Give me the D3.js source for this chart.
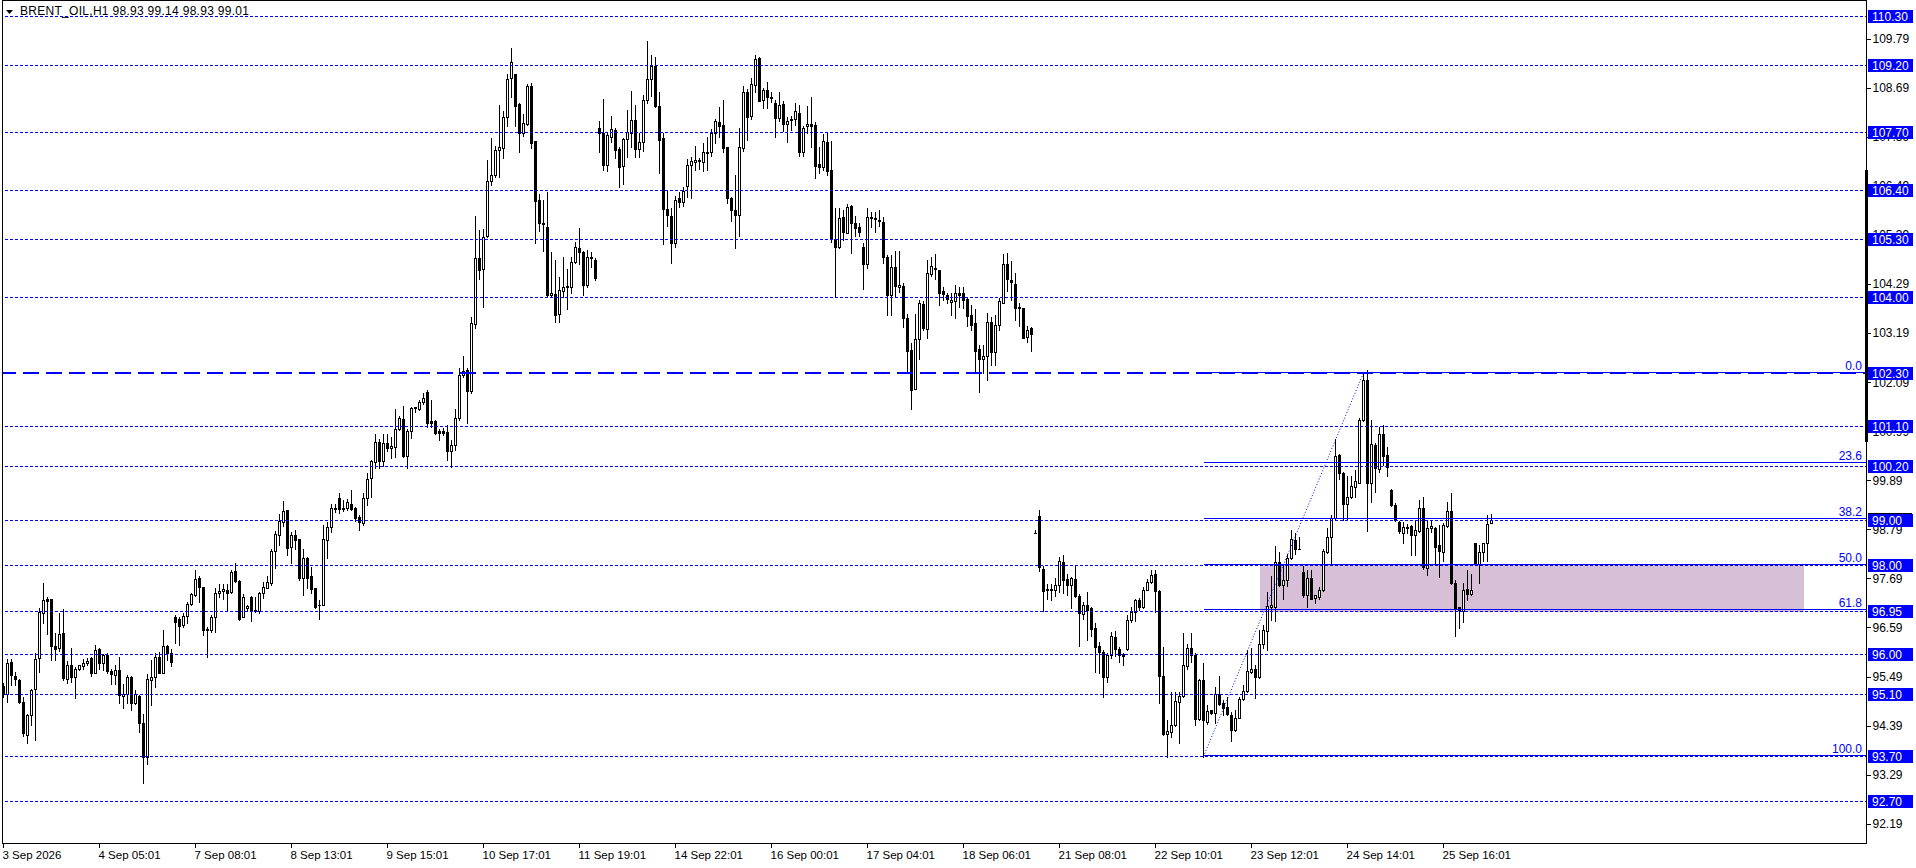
<!DOCTYPE html>
<html><head><meta charset="utf-8">
<script src="https://cdn.jsdelivr.net/npm/d3@7/dist/d3.min.js"></script>
<style>
html,body{margin:0;padding:0;background:#fff;overflow:hidden}
svg{display:block}
</style></head><body>
<svg id="c" width="1916" height="868"></svg>
<script>
// ---------------- DATA ----------------
const opens=[
95.28,95.11,95.81,95.50,95.41,94.93,94.19,94.63,95.20,95.90,
96.91,97.23,97.22,96.17,96.12,96.46,95.43,95.76,95.49,95.65,
95.73,95.79,95.90,95.58,96.10,95.79,95.97,95.61,95.52,95.64,
95.05,95.11,95.49,94.89,95.05,94.44,93.69,95.41,95.49,95.93,
95.58,96.17,96.02,96.83,96.77,96.65,96.85,97.11,97.32,97.69,
97.49,96.55,96.53,96.82,97.36,97.41,97.44,97.39,97.85,97.63,
96.83,97.02,97.28,96.99,96.97,97.36,97.48,97.58,98.31,98.66,
98.96,99.22,98.40,98.66,98.57,97.69,98.14,97.74,97.47,97.10,
97.09,98.55,98.84,99.25,99.49,99.24,99.28,99.37,99.28,99.06,
98.93,99.50,99.95,100.31,100.76,100.32,100.72,100.61,100.64,101.05,
101.26,100.44,101.00,101.52,101.48,101.64,101.86,101.22,101.22,100.99,
100.99,100.97,100.55,100.68,101.28,102.26,102.36,101.90,103.39,104.87,
104.62,105.37,106.59,106.73,107.30,107.33,108.03,108.92,108.99,108.32,
107.67,107.88,108.73,107.50,106.17,105.67,105.56,104.04,104.06,103.61,
104.14,104.25,104.22,104.79,105.09,105.01,104.28,104.89,104.84,107.78,
107.67,106.96,107.59,107.74,107.32,106.94,107.54,107.68,107.97,107.32,
107.47,108.42,108.88,109.18,108.28,107.56,105.97,105.81,105.20,106.23,
106.14,106.49,106.96,107.03,107.05,107.03,107.26,107.24,107.67,107.92,
107.86,107.36,106.23,105.95,105.84,107.33,108.60,108.06,108.75,109.35,
108.41,108.64,108.48,108.36,108.02,108.32,107.87,107.96,107.99,108.12,
107.24,107.83,107.87,107.86,106.98,106.92,107.47,106.85,105.29,105.11,
105.79,105.44,106.04,105.65,105.56,105.11,104.75,105.79,105.78,105.73,
105.69,104.90,104.04,104.68,104.23,104.25,103.52,102.81,101.93,103.06,
103.84,103.29,104.51,104.66,104.60,104.13,104.04,103.88,103.92,104.08,
104.08,103.95,103.60,103.41,102.83,102.62,102.68,103.43,102.76,103.37,
103.87,104.74,104.38,104.30,103.78,103.75,103.11,103.30,98.70,99.09,
97.91,97.46,97.43,97.43,97.54,98.06,97.67,97.54,97.67,97.30,
96.89,97.09,97.02,96.57,96.17,96.05,95.49,95.97,96.37,96.10,
95.99,96.10,96.76,96.93,97.20,97.04,97.44,97.60,97.78,97.41,
95.50,94.20,94.24,94.40,94.93,95.05,95.73,96.12,95.97,94.53,
95.41,94.48,94.74,94.68,95.11,94.89,94.81,94.63,94.29,94.57,
94.98,95.17,95.60,95.67,95.49,96.23,96.51,97.05,97.05,98.06,
97.54,97.65,98.14,98.55,98.36,97.84,97.32,97.69,97.26,97.28,
97.43,98.29,98.61,99.04,100.46,100.06,99.36,99.51,99.75,99.84,
101.24,102.15,99.82,100.68,100.14,100.93,100.46,99.67,99.33,98.96,
98.71,98.85,98.87,98.66,98.76,99.28,97.92,98.83,98.81,98.44,
98.29,98.87,99.21,97.58,97.04,96.97,97.45,97.34,98.48,98.01,
98.29,98.48,98.93];
const highs=[
95.34,95.88,95.88,95.60,95.43,95.04,94.66,95.22,96.01,97.02,
97.59,97.28,97.24,96.46,96.91,97.00,95.84,96.14,95.71,95.76,
95.88,95.90,95.93,96.20,96.14,95.99,96.01,95.65,95.75,95.93,
95.32,95.52,95.51,95.19,95.07,94.66,95.55,95.86,96.01,96.05,
96.53,96.20,96.10,96.87,96.83,96.91,97.17,97.37,97.89,97.75,
97.50,96.61,96.87,97.47,97.56,97.56,97.56,97.88,98.03,97.65,
97.33,97.09,97.30,97.28,97.39,97.62,97.74,98.36,98.75,99.13,
99.43,99.22,98.74,98.77,98.57,98.36,98.18,97.95,97.47,97.21,
98.88,98.96,99.36,99.35,99.60,99.45,99.46,99.67,99.30,99.11,
99.61,100.05,100.34,100.93,100.81,100.93,100.93,100.87,101.50,101.34,
101.56,101.04,101.54,101.54,101.69,101.84,101.91,101.69,101.24,101.05,
101.07,101.13,100.79,101.50,102.40,102.68,102.40,103.56,105.82,105.50,
105.52,107.07,107.56,107.38,108.30,108.16,109.01,109.58,109.01,108.34,
108.10,108.78,108.79,107.50,106.31,106.17,106.35,105.01,104.83,104.44,
104.89,104.62,104.89,105.24,105.54,105.03,105.05,105.02,104.87,107.95,
108.43,107.67,108.06,107.80,107.37,107.56,108.19,108.62,108.30,107.68,
108.53,109.74,109.43,109.39,108.60,107.67,106.38,105.99,106.27,106.36,
106.47,107.09,107.13,107.38,107.11,107.46,107.59,107.76,107.98,108.27,
108.42,107.37,106.25,106.73,107.78,108.72,108.66,108.90,109.43,109.37,
108.68,108.83,108.60,108.42,108.60,108.40,108.04,108.06,108.36,108.30,
107.83,108.28,108.48,107.93,107.37,107.65,107.71,107.50,105.99,105.99,
105.95,106.08,106.06,105.82,105.65,105.20,105.99,105.91,105.91,105.94,
105.79,104.94,104.94,105.04,105.04,104.31,103.62,102.96,103.62,103.93,
103.92,104.84,104.90,104.96,104.60,104.23,104.08,104.08,104.27,104.23,
104.23,104.01,103.82,103.72,102.92,102.92,103.65,103.56,103.60,103.97,
104.96,104.98,104.81,104.53,103.86,103.75,103.35,103.32,98.78,99.22,
97.97,97.56,97.56,97.71,98.18,98.21,97.79,97.73,97.97,97.33,
97.17,97.38,97.06,96.68,96.27,96.08,96.02,96.50,96.52,96.16,
96.01,96.87,97.05,97.24,97.26,97.49,97.67,97.88,97.89,97.43,
96.16,94.51,95.15,95.15,95.15,96.47,96.23,96.46,96.01,95.43,
95.79,94.85,94.75,95.26,95.50,94.96,95.04,94.70,94.74,95.04,
95.31,96.08,96.14,95.75,96.53,96.64,97.39,97.74,98.42,98.29,
98.01,98.24,98.77,98.71,98.61,97.97,97.89,97.89,97.32,97.49,
98.36,98.81,99.11,100.81,100.48,100.08,99.99,99.99,100.12,101.28,
102.30,102.36,101.24,100.72,101.09,101.13,100.63,99.69,99.39,98.98,
98.96,98.91,98.89,99.00,99.45,99.52,99.00,98.98,98.85,98.89,
98.94,99.40,99.61,97.65,97.06,97.58,97.89,97.79,98.49,98.44,
98.48,99.11,99.14];
const lows=[
95.04,94.93,95.31,95.30,94.90,94.16,93.99,94.40,94.07,95.60,
96.70,96.44,95.86,95.87,96.07,95.41,95.35,95.37,95.02,95.64,
95.67,95.75,95.50,95.58,95.67,95.64,95.56,95.32,95.32,94.89,
94.79,94.89,94.74,94.87,94.25,93.11,93.54,94.85,95.26,95.56,
95.56,95.87,95.73,96.25,96.20,96.61,96.70,97.09,97.30,97.17,
96.42,95.93,96.50,96.50,97.28,97.24,96.98,97.37,97.62,96.76,
96.83,96.99,96.74,96.94,96.91,97.26,97.47,97.54,97.92,98.44,
98.86,98.21,98.03,98.36,97.65,97.32,97.47,97.36,97.03,96.78,
97.09,98.15,98.74,99.19,99.15,99.20,99.22,99.22,98.98,98.77,
98.89,99.34,99.52,100.16,100.17,100.20,100.55,100.38,100.42,101.02,
100.42,100.16,100.83,101.43,101.46,101.61,101.09,101.09,100.92,100.79,
100.91,100.35,100.18,100.57,101.24,102.21,101.18,101.85,103.30,104.40,
103.77,105.34,106.51,106.70,106.68,107.11,107.84,108.49,107.84,107.24,
107.62,107.86,107.33,105.22,105.49,105.04,104.01,104.01,103.45,103.45,
104.01,103.72,104.08,104.77,104.75,104.04,104.22,104.68,104.38,107.24,
106.85,106.83,107.48,107.12,106.47,106.53,107.13,107.37,107.13,107.13,
107.28,108.36,108.51,108.27,106.77,105.19,105.59,104.77,105.13,106.01,
106.03,106.25,106.23,106.85,106.88,106.83,106.85,107.15,107.45,107.59,
107.26,106.11,105.71,105.09,105.37,107.28,107.53,107.98,108.60,108.40,
108.23,108.23,108.38,107.59,107.95,107.73,107.48,107.74,107.86,107.16,
107.15,107.67,107.36,106.66,106.77,106.85,106.73,105.23,104.02,105.09,
105.28,105.43,104.98,105.37,105.37,104.19,104.64,105.58,105.46,105.59,
104.77,103.60,103.60,104.01,104.12,103.32,102.29,101.50,101.93,102.62,
103.26,103.07,104.46,104.40,103.82,103.93,103.86,103.60,103.52,103.78,
103.75,103.35,103.26,102.35,101.88,102.29,102.15,102.48,102.48,103.26,
103.86,104.14,103.93,103.48,103.35,103.07,103.00,102.80,98.70,97.86,
96.96,97.24,97.20,97.30,97.38,97.37,97.32,97.02,97.28,96.17,
96.77,96.32,96.40,95.60,95.56,95.04,95.37,95.90,95.95,95.82,
95.75,96.08,96.72,96.74,96.98,97.02,97.43,97.58,96.94,94.90,
94.18,93.68,94.14,94.39,94.01,95.04,95.67,95.82,94.40,94.52,
93.69,94.43,94.66,94.45,94.85,94.63,94.63,94.05,94.28,94.55,
94.96,95.15,95.56,95.02,95.45,96.12,96.08,96.76,96.74,97.52,
97.22,97.52,98.12,98.23,98.34,97.27,97.06,97.22,97.14,97.24,
97.41,98.25,98.04,99.00,99.91,99.01,98.99,99.49,99.52,99.82,
101.23,98.76,99.41,99.63,100.08,100.23,99.99,99.31,98.98,98.71,
98.49,98.71,98.21,98.21,98.74,97.91,97.77,98.74,98.03,97.73,
98.07,98.85,97.56,96.40,96.57,96.72,97.20,97.32,98.00,97.59,
98.09,98.09,98.93];
const closes=[
95.11,95.79,95.52,95.43,94.93,94.22,94.63,95.19,95.88,96.93,
97.21,97.18,96.17,96.11,96.44,95.45,95.76,95.49,95.67,95.74,
95.79,95.84,95.56,96.08,95.79,95.97,95.62,95.54,95.64,95.08,
95.11,95.49,94.89,95.09,94.44,93.69,95.43,95.49,95.93,95.58,
96.18,96.02,95.82,96.72,96.63,96.85,97.11,97.34,97.67,97.49,
96.53,96.53,96.82,97.36,97.41,97.45,97.37,97.84,97.64,96.79,
97.27,97.07,96.97,96.96,97.37,97.49,97.60,98.31,98.68,98.98,
99.21,98.38,98.66,98.55,97.69,98.14,97.69,97.45,97.06,97.09,
98.57,98.85,99.28,99.28,99.24,99.28,99.40,99.25,99.04,98.96,
99.49,99.93,100.32,100.76,100.33,100.72,100.61,100.66,101.03,101.28,
100.44,100.99,101.52,101.53,101.65,101.73,101.17,101.18,100.96,100.96,
100.96,100.55,100.68,101.29,102.26,102.33,101.90,103.42,104.87,104.60,
105.35,106.59,106.73,107.30,107.36,108.03,108.88,109.26,108.29,107.67,
107.89,108.73,107.46,106.16,105.65,105.63,104.04,104.10,103.59,104.16,
104.22,104.22,104.79,105.11,105.02,104.27,104.90,104.87,104.43,107.68,
106.96,107.63,107.76,107.30,106.92,107.54,107.69,107.97,107.31,107.47,
108.42,108.88,109.18,108.29,107.53,105.97,105.84,105.20,106.17,106.14,
106.38,106.97,107.05,107.07,107.07,107.24,107.22,107.67,107.95,107.84,
107.33,106.23,105.94,105.84,107.36,108.60,108.04,108.78,109.33,108.40,
108.64,108.48,108.47,108.02,108.30,107.87,107.95,107.99,108.16,107.26,
107.80,107.87,107.84,106.94,106.92,107.50,106.83,105.31,105.13,105.76,
105.46,106.01,105.65,105.54,105.46,104.75,105.80,105.76,105.74,105.70,
104.89,104.04,104.68,104.25,104.28,103.54,102.80,101.91,103.05,103.86,
103.30,104.53,104.70,104.63,104.10,104.06,103.95,103.93,104.08,104.04,
103.93,103.57,103.37,102.80,102.62,102.68,103.45,102.76,103.37,103.91,
104.74,104.40,104.34,103.75,103.75,103.09,103.27,103.16,98.70,97.94,
97.41,97.43,97.46,97.54,98.08,97.65,97.54,97.69,97.30,96.91,
97.09,96.99,96.55,96.16,96.05,95.49,95.97,96.40,96.10,95.97,
95.96,96.76,96.93,97.20,97.06,97.44,97.60,97.76,97.41,95.50,
94.20,94.27,94.40,94.94,95.05,95.75,96.12,95.97,94.53,95.41,
94.52,94.72,94.68,95.11,94.87,94.78,94.64,94.29,94.55,94.98,
95.17,95.61,95.67,95.49,96.23,96.53,97.07,97.09,98.06,97.54,
97.65,98.14,98.57,98.34,98.34,97.32,97.71,97.24,97.32,97.43,
98.31,98.61,99.04,100.43,100.06,99.36,99.51,99.76,99.87,101.24,
102.15,99.84,100.70,100.16,100.93,100.43,100.18,99.33,99.00,98.76,
98.85,98.81,98.66,98.77,99.28,97.94,98.81,98.86,98.40,98.31,
98.89,99.21,97.58,97.02,96.98,97.42,97.34,97.43,98.01,98.29,
98.48,98.92,99.01];

const timeLabels=["3 Sep 2026","4 Sep 05:01","7 Sep 08:01","8 Sep 13:01","9 Sep 15:01",
"10 Sep 17:01","11 Sep 19:01","14 Sep 22:01","16 Sep 00:01","17 Sep 04:01","18 Sep 06:01",
"21 Sep 08:01","22 Sep 10:01","23 Sep 12:01","24 Sep 14:01","25 Sep 16:01"];
const barsPerLabel=24;
const priceTicks=[92.19,93.29,94.39,95.49,96.59,97.69,98.79,99.89,100.99,102.09,103.19,104.29,105.39,106.49,107.59,108.69,109.79];
const levelPrices=[110.30,109.20,107.70,106.40,105.30,104.00,101.10,100.20,99.00,98.00,96.95,96.00,95.10,93.70,92.70];
const keyLevel=102.30;
const fibFrom={bar:300,price:93.70};
const fibTo={bar:340,price:102.30};
const fibRatios=[0,23.6,38.2,50,61.8,100];
const zone={fromBar:314,toBar:450,top:98.00,bottom:96.93};
const symbol="BRENT_OIL,H1";
const lastQuote=[98.93,99.14,98.93,99.01];
const bidRange=[106.85,100.75];

// ---------------- CHART ----------------
const BLUE="#0000ff";
const FONT="'Liberation Sans','DejaVu Sans',Arial,sans-serif";
const svg=d3.select("#c").style("font-family",FONT);
const plotL=2,plotR=1866,plotT=1,plotB=843;
const N=opens.length;
const x=d3.scaleLinear().domain([0,1]).range([3.5,7.5]);
const y=d3.scaleLinear().domain([92.70,110.30]).range([801,16]);
const py=p=>Math.round(y(p))+0.5;

svg.append("defs").append("clipPath").attr("id","clip")
  .append("rect").attr("x",plotL).attr("y",plotT).attr("width",plotR-plotL).attr("height",plotB-plotT);
const plot=svg.append("g").attr("clip-path","url(#clip)");

// zone rectangle (background)
plot.append("rect")
  .attr("x",Math.round(x(zone.fromBar))).attr("y",Math.round(y(zone.top)))
  .attr("width",Math.round(x(zone.toBar))-Math.round(x(zone.fromBar)))
  .attr("height",Math.round(y(zone.bottom))-Math.round(y(zone.top)))
  .attr("fill","#d8bfd8");

// candles
const cg=plot.append("g").attr("shape-rendering","crispEdges");
const idx=d3.range(N);
cg.selectAll("line.wick").data(idx).join("line").attr("class","wick")
  .attr("x1",i=>x(i)).attr("x2",i=>x(i))
  .attr("y1",i=>Math.round(y(highs[i]))).attr("y2",i=>Math.round(y(lows[i]))+1)
  .attr("stroke","#000").attr("stroke-width",1);
cg.selectAll("rect.body").data(idx).join("rect").attr("class","body")
  .each(function(i){
    const o=opens[i],c=closes[i];
    const top=Math.round(y(Math.max(o,c))),bot=Math.round(y(Math.min(o,c)));
    const r=d3.select(this);
    if(c>o){
      r.attr("x",x(i)-1).attr("y",top+0.5).attr("width",2).attr("height",Math.max(bot-top,1))
       .attr("fill","#fff").attr("stroke","#000").attr("stroke-width",1);
    }else{
      r.attr("x",x(i)-1.5).attr("y",top).attr("width",3).attr("height",Math.max(bot-top+1,1))
       .attr("fill","#000");
    }
  });

// horizontal levels
const lg=plot.append("g").attr("shape-rendering","crispEdges");
lg.selectAll("line.lvl").data(levelPrices).join("line").attr("class","lvl")
  .attr("x1",0).attr("x2",plotR).attr("y1",d=>py(d)).attr("y2",d=>py(d))
  .attr("stroke",BLUE).attr("stroke-width",1).attr("stroke-dasharray","3,2");
lg.append("line").attr("x1",0).attr("x2",plotR)
  .attr("y1",Math.round(y(keyLevel))).attr("y2",Math.round(y(keyLevel)))
  .attr("stroke",BLUE).attr("stroke-width",2).attr("stroke-dasharray","16,7");

// fibonacci
const fibPrice=r=>fibTo.price-(r/100)*(fibTo.price-fibFrom.price);
const fg=plot.append("g");
fg.selectAll("line.fib").data(fibRatios).join("line").attr("class","fib")
  .attr("shape-rendering","crispEdges")
  .attr("x1",x(fibFrom.bar)).attr("x2",plotR)
  .attr("y1",d=>Math.round(y(fibPrice(d)))-0.5).attr("y2",d=>Math.round(y(fibPrice(d)))-0.5)
  .attr("stroke",BLUE).attr("stroke-width",1);
fg.selectAll("text.fib").data(fibRatios).join("text").attr("class","fib")
  .attr("x",plotR-4).attr("y",d=>Math.round(y(fibPrice(d)))-3)
  .attr("text-anchor","end").attr("fill",BLUE).attr("font-size","12px")
  .text(d=>d.toFixed(1));
fg.append("line")
  .attr("x1",x(fibFrom.bar)).attr("y1",y(fibFrom.price))
  .attr("x2",x(fibTo.bar)).attr("y2",y(fibTo.price))
  .attr("stroke",BLUE).attr("stroke-width",1).attr("stroke-dasharray","1,2");

// frame
const frame=svg.append("g").attr("shape-rendering","crispEdges");
frame.append("line").attr("x1",plotL+0.5).attr("x2",plotL+0.5).attr("y1",0).attr("y2",plotB+1).attr("stroke","#000");
frame.append("line").attr("x1",plotL).attr("x2",plotR+1).attr("y1",0.5).attr("y2",0.5).attr("stroke","#000");
frame.append("line").attr("x1",plotR+0.5).attr("x2",plotR+0.5).attr("y1",0).attr("y2",plotB+1).attr("stroke","#000");
frame.append("line").attr("x1",plotL).attr("x2",plotR+1).attr("y1",plotB+0.5).attr("y2",plotB+0.5).attr("stroke","#000");

// right price axis
const yAxis=d3.axisRight(y).tickValues(priceTicks).tickFormat(d3.format(".2f")).tickSize(4).tickSizeOuter(0).tickPadding(2);
const ya=svg.append("g").attr("transform",`translate(${plotR+0.5},0)`).call(yAxis);
ya.select(".domain").remove();
ya.selectAll(".tick line").attr("stroke","#000").attr("shape-rendering","crispEdges");
ya.selectAll(".tick text").attr("fill","#000").style("font-family",FONT).style("font-size","12px");

// bid bar
svg.append("rect").attr("x",plotR-1).attr("y",Math.round(y(bidRange[0]))).attr("width",3)
  .attr("height",Math.round(y(bidRange[1]))-Math.round(y(bidRange[0]))).attr("fill","#000");

// blue price boxes
const allBoxes=levelPrices.concat([keyLevel]);
const bx=svg.append("g");
bx.selectAll("rect").data(allBoxes).join("rect")
  .attr("x",plotR+2).attr("y",d=>Math.round(y(d))-6).attr("width",45).attr("height",13).attr("fill",BLUE);
bx.selectAll("text").data(allBoxes).join("text")
  .attr("x",plotR+6).attr("y",d=>Math.round(y(d))+5).attr("fill","#fff")
  .attr("font-size","12px").text(d=>d.toFixed(2));
svg.append("line").attr("x1",plotR+2).attr("x2",plotR+46).attr("y1",Math.round(y(lastQuote[3]))-6.5).attr("y2",Math.round(y(lastQuote[3]))-6.5)
  .attr("stroke","#000").attr("shape-rendering","crispEdges");

// bottom time axis
const tickBars=timeLabels.map((_,k)=>k*barsPerLabel);
const xAxis=d3.axisBottom(x).tickValues(tickBars).tickFormat(d=>timeLabels[d/barsPerLabel]).tickSize(4).tickSizeOuter(0).tickPadding(3).offset(0);
const xa=svg.append("g").attr("transform",`translate(0,${plotB+0.5})`).call(xAxis);
xa.select(".domain").remove();
xa.selectAll(".tick line").attr("stroke","#000").attr("shape-rendering","crispEdges");
xa.selectAll(".tick text").attr("fill","#000").attr("text-anchor","start").attr("x",-1)
  .style("font-family",FONT).style("font-size","11.5px");

// title
svg.append("path").attr("d","M6,10 L13,10 L9.5,14 Z").attr("fill","#000");
svg.append("text").attr("x",20).attr("y",15).attr("fill","#000").attr("font-size","12px")
  .attr("textLength",229).attr("lengthAdjust","spacing")
  .style("white-space","pre")
  .text(symbol+" "+lastQuote.map(v=>v.toFixed(2)).join(" "));
</script>
</body></html>
